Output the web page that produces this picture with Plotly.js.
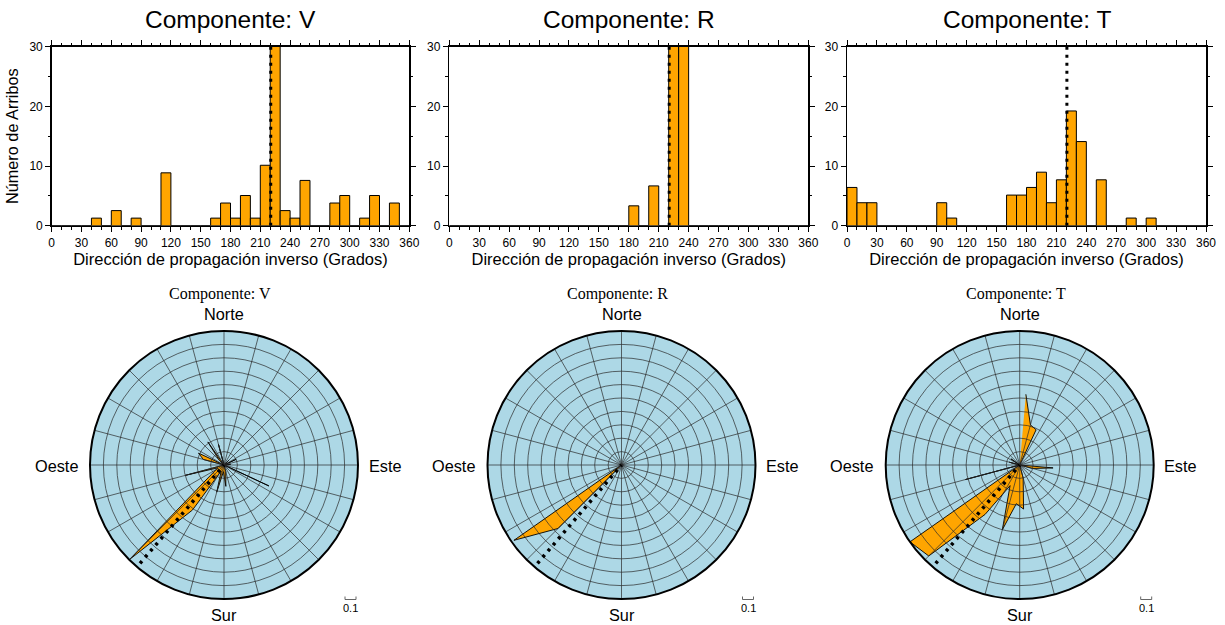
<!DOCTYPE html>
<html><head><meta charset="utf-8">
<script src="https://cdn.plot.ly/plotly-3.0.1.min.js"></script>
<style>html,body{margin:0;padding:0;background:#fff;}#chart{width:1225px;height:625px;}</style>
</head><body><div id="chart"></div>
<script>
// ---- data ----
const binCenters = [5,15,25,35,45,55,65,75,85,95,105,115,125,135,145,155,165,175,185,195,205,215,225,235,245,255,265,275,285,295,305,315,325,335,345,355];
const histV = [0,0,0,0,1.27,0,2.53,0,1.27,0,0,8.86,0,0,0,0,1.27,3.80,1.27,5.06,1.27,10.13,32.91,2.53,1.27,7.59,0,0,3.80,5.06,0,1.27,5.06,0,3.80,0];
const histR = [0,0,0,0,0,0,0,0,0,0,0,0,0,0,0,0,0,0,3.33,0,6.67,0,43.33,46.67,0,0,0,0,0,0,0,0,0,0,0,0];
const histT = [6.41,3.85,3.85,0,0,0,0,0,0,3.85,1.28,0,0,0,0,0,5.13,5.13,6.41,8.97,3.85,7.69,19.23,14.10,0,7.69,0,0,1.28,0,1.28,0,0,0,0,0];
const roseV = [0,0,0,0,0.05,0,0.10,0,0.05,0,0,0.37,0,0,0,0,0.05,0.16,0.05,0.21,0.05,0.41,1.00,0.10,0.05,0.30,0,0,0.16,0.21,0,0.05,0.21,0,0.16,0];
const roseR = [0,0,0,0,0,0,0,0,0,0,0,0,0,0,0,0,0,0,0,0,0,0,0.67,0.98,0,0,0,0,0,0,0,0,0,0,0,0];
const roseT = [0.53,0.31,0.29,0,0,0,0,0,0,0.25,0.10,0,0,0,0,0,0.10,0.33,0.29,0.50,0.17,0.45,0.96,1.00,0,0.42,0,0,0.08,0,0.08,0,0,0,0,0];
const backAzimuth = 220.5;
const componentNames = ['V','R','T'];
const histTitlePrefix = 'Componente: ';
const xTitle = 'Dirección de propagación inverso (Grados)';
const yTitle = 'Número de Arribos';
const cardinalNames = ['Norte','Sur','Oeste','Este'];
const roseScaleLabel = '0.1';
const gridSpokes = [0,15,30,45,60,75,90,105,120,135,150,165,180,195,210,225,240,255,270,285,300,315,330,345];
const gridRings = [0.1,0.2,0.3,0.4,0.5,0.6,0.7,0.8,0.9,1.0];

const hists = [histV, histR, histT];
const roses = [roseV, roseR, roseT];

// ---- layout geometry (pixels) ----
const W = 1225, H = 625;
const px = x => x / W, py = y => 1 - y / H;
const histX = [[51.7,409.3],[449.3,808.3],[847,1206]];
const histY = [46.7,225.7];
const roseCx = [224, 621.5, 1019.7], roseCy = 465, roseRad = 134;

const ORANGE = '#FFA500', BG = '#ADD8E6';
const SANS = 'Liberation Sans, Arial, Helvetica, sans-serif';
const SERIF = 'Liberation Serif, Times New Roman, serif';

const traces = [];
const layout = {
  width: W, height: H, margin: {l:0,r:0,t:0,b:0},
  paper_bgcolor: '#fff', showlegend: false,
  font: {family: SANS, color: '#000'},
  annotations: [], shapes: []
};

for (let i = 0; i < 3; i++) {
  const sx = i === 0 ? '' : String(i + 1);
  traces.push({
    type: 'bar', x: binCenters, y: hists[i], width: 10,
    xaxis: 'x' + sx, yaxis: 'y' + sx,
    marker: {color: ORANGE, line: {color: '#000', width: 1}},
    hoverinfo: 'skip'
  });
  traces.push({
    type: 'scatter', mode: 'lines', x: [backAzimuth, backAzimuth], y: [30, 0],
    xaxis: 'x' + sx, yaxis: 'y' + sx,
    line: {color: '#000', width: 3, dash: '3px,5px'}, hoverinfo: 'skip'
  });
  const axCommon = {
    showline: true, linecolor: '#000', linewidth: 1.5, mirror: 'allticks',
    ticks: 'outside', ticklen: 5, tickwidth: 1, tickcolor: '#000',
    showgrid: false, zeroline: false, tickfont: {size: 12, family: SANS, color: '#000'}
  };
  layout['xaxis' + sx] = Object.assign({}, axCommon, {
    domain: [px(histX[i][0]), px(histX[i][1])], anchor: 'y' + sx,
    range: [0, 360], tickmode: 'linear', tick0: 0, dtick: 30,
    minor: {dtick: 10, tick0: 0, ticks: 'outside', ticklen: 2.5, tickwidth: 1, tickcolor: '#000'},
    title: {text: xTitle, font: {size: 16.5, family: SANS, color: '#000'}, standoff: 4}
  });
  layout['yaxis' + sx] = Object.assign({}, axCommon, {
    domain: [py(histY[1]), py(histY[0])], anchor: 'x' + sx,
    range: [0, 30], tickmode: 'linear', tick0: 0, dtick: 10,
    minor: {dtick: 5, tick0: 0, ticks: 'outside', ticklen: 2.5, tickwidth: 1, tickcolor: '#000'},
    title: {text: i === 0 ? yTitle : '', font: {size: 16.3, family: SANS, color: '#000'}, standoff: 6}
  });
  layout.annotations.push({
    text: histTitlePrefix + componentNames[i], showarrow: false,
    xref: 'paper', yref: 'paper', x: px((histX[i][0] + histX[i][1]) / 2), y: py(19.7),
    xanchor: 'center', yanchor: 'middle', font: {size: 24.5, family: SANS, color: '#000'}
  });

  // rose: data polar (below) + grid overlay polar (above)
  const cx = roseCx[i];
  const dom = {x: [px(cx - roseRad), px(cx + roseRad)], y: [py(roseCy + roseRad), py(roseCy - roseRad)]};
  const pData = 'polar' + (i === 0 ? '' : i + 1);
  const pGrid = 'polar' + (i + 4);
  traces.push({
    type: 'scatterpolar', subplot: pData, mode: 'lines', r: roses[i], theta: binCenters,
    fill: 'toself', fillcolor: ORANGE, line: {color: '#000', width: 0.9}, hoverinfo: 'skip'
  });
  traces.push({
    type: 'scatterpolar', subplot: pGrid, mode: 'lines', r: [0.965, 0], theta: [backAzimuth, backAzimuth],
    line: {color: '#000', width: 3.5, dash: '3px,5px'}, hoverinfo: 'skip'
  });
  layout[pData] = {
    domain: dom, bgcolor: BG,
    radialaxis: {range: [0, 1], showgrid: false, showline: false, showticklabels: false, ticks: ''},
    angularaxis: {rotation: 90, direction: 'clockwise', showgrid: false, showline: false, showticklabels: false, ticks: ''}
  };
  layout[pGrid] = {
    domain: dom, bgcolor: 'rgba(0,0,0,0)',
    radialaxis: {range: [0, 1], tickmode: 'array', tickvals: gridRings, showgrid: true, gridcolor: '#2a2a2a', gridwidth: 0.7,
      showline: false, showticklabels: false, ticks: ''},
    angularaxis: {rotation: 90, direction: 'clockwise', tickmode: 'array', tickvals: gridSpokes,
      showgrid: true, gridcolor: '#2a2a2a', gridwidth: 0.7, showline: true, linecolor: '#000', linewidth: 2,
      showticklabels: false, ticks: ''}
  };
  layout.annotations.push({
    text: histTitlePrefix + componentNames[i], showarrow: false, xref: 'paper', yref: 'paper',
    x: px(cx - 4), y: py(293.5), xanchor: 'center', yanchor: 'middle',
    font: {size: 16, family: SERIF, color: '#000'}
  });
  const cardPos = [[cx, 314.3], [cx, 615.3], [cx - 168, 466], [cx + 161, 466]];
  for (let k = 0; k < 4; k++) {
    layout.annotations.push({
      text: cardinalNames[k], showarrow: false, xref: 'paper', yref: 'paper',
      x: px(cardPos[k][0]), y: py(cardPos[k][1]), xanchor: 'center', yanchor: 'middle',
      font: {size: 16.3, family: SANS, color: '#000'}
    });
  }
  layout.annotations.push({
    text: roseScaleLabel, showarrow: false, xref: 'paper', yref: 'paper',
    x: px(cx + 126.5), y: py(608), xanchor: 'center', yanchor: 'middle',
    font: {size: 11, family: SANS, color: '#000'}
  });
  const bx1 = px(cx + 121), bx2 = px(cx + 132), by1 = py(596.5), by2 = py(599.5);
  layout.shapes.push({
    type: 'path', xref: 'paper', yref: 'paper',
    path: `M ${bx1} ${by1} L ${bx1} ${by2} L ${bx2} ${by2} L ${bx2} ${by1}`,
    line: {color: '#555', width: 0.9}
  });
}

Plotly.newPlot('chart', traces, layout, {staticPlot: true, displayModeBar: false});
</script>
</body></html>
